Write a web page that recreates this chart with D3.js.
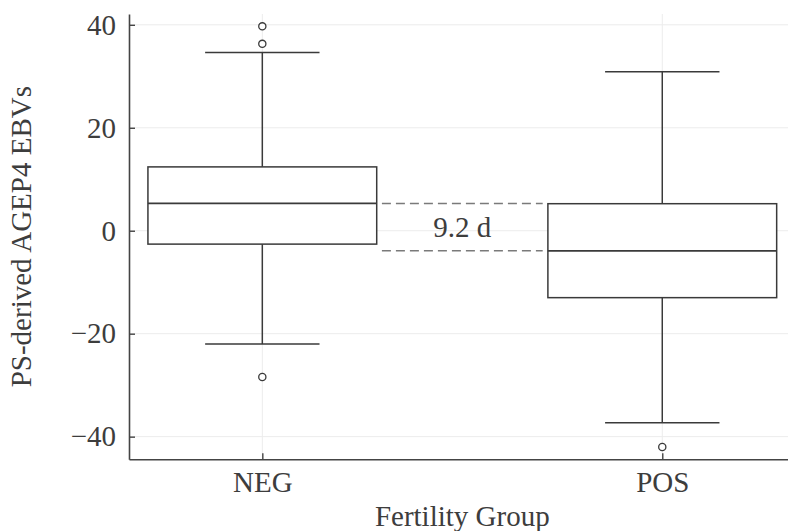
<!DOCTYPE html>
<html>
<head>
<meta charset="utf-8">
<script src="https://cdn.jsdelivr.net/npm/d3@7"></script>
<style>
  html, body { margin: 0; padding: 0; background: #fff; }
  svg { display: block; }
  text { font-family: "Liberation Serif", "Times New Roman", serif; fill: #3d3d3d; }
</style>
</head>
<body>
<svg id="chart" width="788" height="531"></svg>
<script>
// Box-plot summary per fertility group
const categories = ["NEG", "POS"];
const positions = [0.5, 1.5];
const whiskerLow = [-22.0, -37.3];
const q1 = [-2.6, -13.0];
const median = [5.3, -3.9];
const q3 = [12.4, 5.25];
const whiskerHigh = [34.6, 30.9];
const outliers = [[39.7, 36.3, -28.4], [-42.0]];
const yTicks = [-40, -20, 0, 20, 40];

const xLimits = [1 / 6, 11 / 6];
const yLimits = [-44.4, 42.1];
const boxHalf = 0.286;
const capHalf = 0.143;

const svg = d3.select("#chart");
const plotLeft = 129, plotRight = 795.6, plotTop = 14, plotBottom = 459.3;

const x = d3.scaleLinear().domain(xLimits).range([plotLeft, plotRight]);
const y = d3.scaleLinear().domain(yLimits).range([plotBottom, plotTop]);

const ink = "#3a3a3a";
const grid = "#ececec";

// grid lines
svg.append("g").selectAll("line").data(yTicks).join("line")
  .attr("x1", plotLeft).attr("x2", plotRight)
  .attr("y1", d => y(d)).attr("y2", d => y(d))
  .attr("stroke", grid).attr("stroke-width", 1);
svg.append("g").selectAll("line").data(positions).join("line")
  .attr("x1", d => x(d)).attr("x2", d => x(d))
  .attr("y1", plotTop).attr("y2", plotBottom)
  .attr("stroke", grid).attr("stroke-width", 1);

const groups = categories.map((c, i) => ({
  name: c, pos: positions[i], lo: whiskerLow[i], q1: q1[i], med: median[i],
  q3: q3[i], hi: whiskerHigh[i], out: outliers[i]
}));

const g = svg.append("g").selectAll("g").data(groups).join("g");

// whiskers
g.append("line")
  .attr("x1", d => x(d.pos)).attr("x2", d => x(d.pos))
  .attr("y1", d => y(d.q3)).attr("y2", d => y(d.hi))
  .attr("stroke", ink).attr("stroke-width", 1.5);
g.append("line")
  .attr("x1", d => x(d.pos)).attr("x2", d => x(d.pos))
  .attr("y1", d => y(d.q1)).attr("y2", d => y(d.lo))
  .attr("stroke", ink).attr("stroke-width", 1.5);
// caps
g.selectAll("line.cap").data(d => [d.lo, d.hi].map(v => ({pos: d.pos, v}))).join("line")
  .attr("class", "cap")
  .attr("x1", d => x(d.pos - capHalf)).attr("x2", d => x(d.pos + capHalf))
  .attr("y1", d => y(d.v)).attr("y2", d => y(d.v))
  .attr("stroke", ink).attr("stroke-width", 1.5);
// box
g.append("rect")
  .attr("x", d => x(d.pos - boxHalf))
  .attr("width", d => x(d.pos + boxHalf) - x(d.pos - boxHalf))
  .attr("y", d => y(d.q3))
  .attr("height", d => y(d.q1) - y(d.q3))
  .attr("fill", "#fff").attr("stroke", ink).attr("stroke-width", 1.5);
// median
g.append("line")
  .attr("x1", d => x(d.pos - boxHalf)).attr("x2", d => x(d.pos + boxHalf))
  .attr("y1", d => y(d.med)).attr("y2", d => y(d.med))
  .attr("stroke", ink).attr("stroke-width", 1.8);
// outliers
g.selectAll("circle").data(d => d.out.map(v => ({pos: d.pos, v}))).join("circle")
  .attr("cx", d => x(d.pos)).attr("cy", d => y(d.v)).attr("r", 3.6)
  .attr("fill", "#fff").attr("stroke", ink).attr("stroke-width", 1.3);

// axes
const yAxis = d3.axisLeft(y).tickValues(yTicks).tickSize(-6).tickSizeOuter(0).tickPadding(13);
const ya = svg.append("g").attr("transform", `translate(${plotLeft},0)`).call(yAxis);
const xAxis = d3.axisBottom(x).tickValues(positions).tickFormat((d, i) => categories[i])
  .tickSize(-6).tickSizeOuter(0).tickPadding(12);
const xa = svg.append("g").attr("transform", `translate(0,${plotBottom})`).call(xAxis);
[ya, xa].forEach(a => {
  a.select(".domain").attr("stroke", "#444").attr("stroke-width", 1.6);
  a.selectAll(".tick line").attr("stroke", "#444").attr("stroke-width", 1.4);
  a.selectAll(".tick text").attr("font-size", 29)
    .style("font-family", '"Liberation Serif", "Times New Roman", serif').attr("fill", "#3d3d3d");
});

// median difference annotation
const pad = 0.013;
const dashX1 = x(positions[0] + boxHalf + pad);
const dashX2 = x(positions[1] - boxHalf - pad);
svg.append("g").selectAll("line").data(median).join("line")
  .attr("x1", dashX1).attr("x2", dashX2)
  .attr("y1", d => y(d)).attr("y2", d => y(d))
  .attr("stroke", "#7a7a7a").attr("stroke-width", 1.6).attr("stroke-dasharray", "9,5");
const diff = median[0] - median[1];
svg.append("text")
  .attr("x", (dashX1 + dashX2) / 2)
  .attr("y", (y(median[0]) + y(median[1])) / 2)
  .attr("dy", "0.35em")
  .attr("text-anchor", "middle").attr("font-size", 29)
  .text(`${diff.toFixed(1)} d`);

// axis titles
svg.append("text")
  .attr("x", (plotLeft + plotRight) / 2).attr("y", 526)
  .attr("text-anchor", "middle").attr("font-size", 29)
  .text("Fertility Group");
svg.append("text")
  .attr("transform", `translate(31,${(plotTop + plotBottom) / 2}) rotate(-90)`)
  .attr("text-anchor", "middle").attr("font-size", 29)
  .text("PS-derived AGEP4 EBVs");
</script>
</body>
</html>
